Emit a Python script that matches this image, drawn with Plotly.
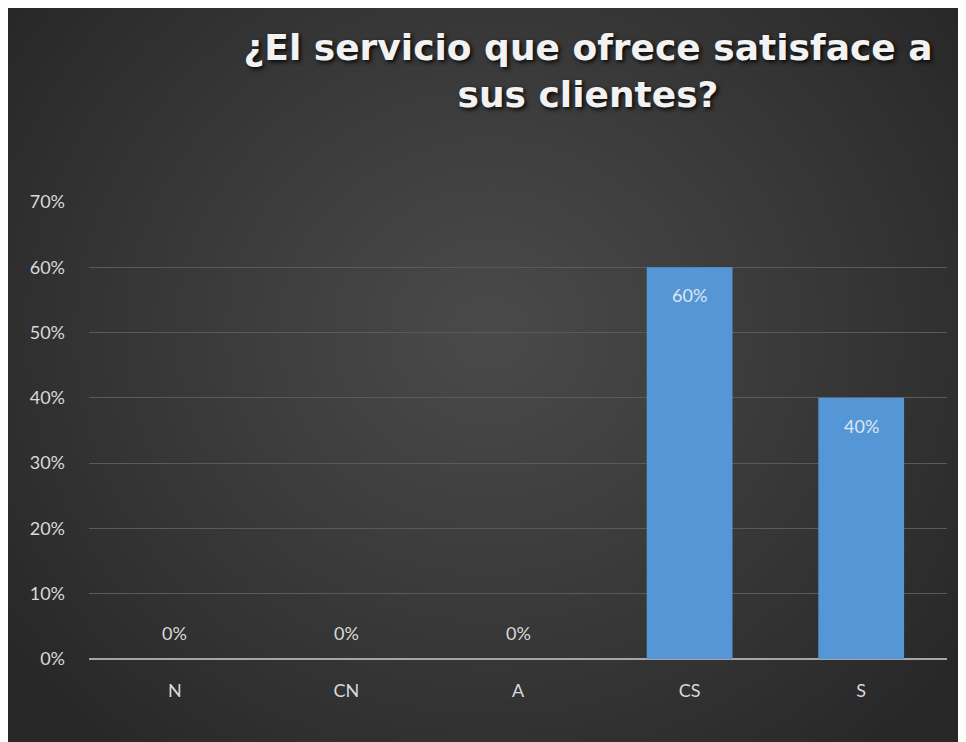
import base64, struct, zlib
import numpy as np
import plotly.graph_objects as go

categories = ["N", "CN", "A", "CS", "S"]
values = [0.0, 0.0, 0.0, 0.60, 0.40]
labels = ["0%", "0%", "0%", "60%", "40%"]
tick_vals = [0, 0.1, 0.2, 0.3, 0.4, 0.5, 0.6, 0.7]
tick_text = ["0%", "10%", "20%", "30%", "40%", "50%", "60%", "70%"]
title_text = "¿El servicio que ofrece satisface a<br>sus clientes?"

# page has an 8px body margin, so the figure is 8px smaller than the window
W, H = 958, 734
L, R, T, B = 81, 19, 194, 83
pw, ph = W - L - R, H - T - B


def png_data_uri(arr):
    h, w, _ = arr.shape
    raw = b"".join(b"\x00" + arr[i].tobytes() for i in range(h))
    def chunk(tag, data):
        c = struct.pack(">I", len(data)) + tag + data
        return c + struct.pack(">I", zlib.crc32(tag + data) & 0xFFFFFFFF)
    png = b"\x89PNG\r\n\x1a\n" + chunk(b"IHDR", struct.pack(">IIBBBBB", w, h, 8, 2, 0, 0, 0))
    png += chunk(b"IDAT", zlib.compress(raw, 9)) + chunk(b"IEND", b"")
    return "data:image/png;base64," + base64.b64encode(png).decode()

# radial gradient background
gw, gh = 240, 184
yy, xx = np.mgrid[0:gh, 0:gw].astype(float)
cx, cy = gw * 0.50, gh * 0.44
d = np.sqrt(((xx - cx) / (gw * 0.62)) ** 2 + ((yy - cy) / (gh * 0.75)) ** 2)
d = np.clip(d, 0, 1)
v = 74 - (74 - 40) * d ** 1.1
img = np.repeat(np.clip(v, 0, 255).astype(np.uint8)[:, :, None], 3, axis=2)
bg_uri = png_data_uri(img)

x0p = -L / pw
x1p = (W - L) / pw
y1p = (H - B) / ph
y0p = -B / ph

fig = go.Figure()
fig.add_trace(go.Bar(
    x=categories, y=values,
    marker=dict(color="#5596d6", line=dict(width=0)),
    hoverinfo="x+y",
))

annotations = []
for c, v_, t in zip(categories, values, labels):
    inside = v_ > 0
    annotations.append(dict(
        x=c, y=v_, xref="x", yref="y", text=t, showarrow=False,
        yanchor="middle", yshift=-28 if inside else 26,
        font=dict(family="Lato", size=18, color="#dce6f2" if inside else "#d9d9d9"),
    ))

fig.update_layout(
    width=W, height=H,
    margin=dict(l=L, r=R, t=T, b=B, pad=0),
    paper_bgcolor="#303030",
    plot_bgcolor="rgba(0,0,0,0)",
    bargap=0.5,
    showlegend=False,
    annotations=annotations,
    title=dict(
        text=title_text,
        x=(580 - L) / pw, xref="paper", xanchor="center",
        y=1 - 52 / H, yref="container", yanchor="middle",
        font=dict(family="DejaVu Sans", size=36, color="#f2f2f2", weight="bold",
                  shadow="2px 2px 4px rgba(0,0,0,0.9)"),
    ),
    images=[dict(source=bg_uri, xref="paper", yref="paper",
                 x=x0p, y=y1p, sizex=x1p - x0p, sizey=y1p - y0p,
                 xanchor="left", yanchor="top", sizing="stretch",
                 layer="below")],
    xaxis=dict(
        showgrid=False, showline=False, zeroline=False, ticks="",
        tickfont=dict(family="Lato", size=18, color="#d9d9d9"),
        ticklabelstandoff=19,
    ),
    yaxis=dict(
        range=[0, 0.7], tickvals=tick_vals, ticktext=tick_text,
        showgrid=True, gridcolor="#5a5a5a", gridwidth=1,
        zeroline=True, zerolinecolor="#a6a6a6", zerolinewidth=2,
        showline=False, ticks="",
        tickfont=dict(family="Lato", size=18, color="#d9d9d9"),
        ticklabelstandoff=23,
    ),
)

fig.write_html("out.html")
